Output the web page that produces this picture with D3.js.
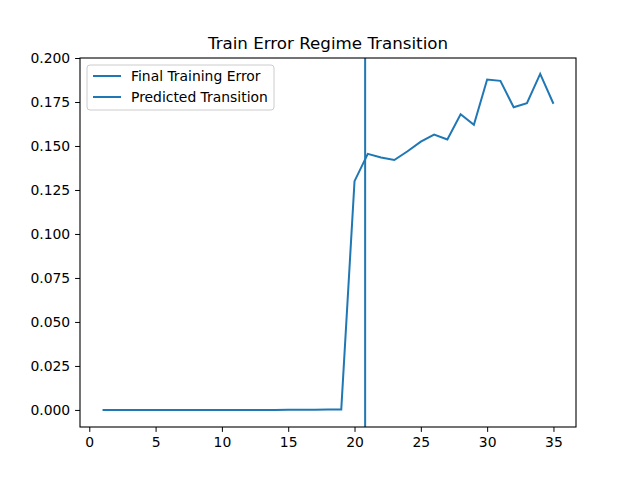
<!DOCTYPE html>
<html><head><meta charset="utf-8">
<script src="https://cdn.jsdelivr.net/npm/d3@7"></script>
<style>body{margin:0;background:#fff}text{font-family:"DejaVu Sans",sans-serif}</style>
</head><body>
<svg width="640" height="480"></svg>
<script>
// training sizes and final error
const xs = [1,2,3,4,5,6,7,8,9,10,11,12,13,14,15,16,17,18,19,20,21,22,23,24,25,26,27,28,29,30,31,32,33,34,35]
const errors = [0,0,0,0,0,0,0,0,0,0,0,0,0,0.00002,0.00005,0.00008,0.0001,0.0002,0.0003,0.130,0.1455,0.1435,0.142,0.147,0.1525,0.1565,0.1537,0.168,0.162,0.1878,0.187,0.172,0.1743,0.191,0.174]
const transition = 20.8
const xTicks = [0,5,10,15,20,25,30,35]
const yTicks = [0,0.025,0.05,0.075,0.1,0.125,0.15,0.175,0.2]

const svg = d3.select('svg')
const L = 80, R = 576, T = 58, B = 427
const x = d3.scaleLinear().domain([-0.7, 36.7]).range([L, R])
const y = d3.scaleLinear().domain([-0.0097, 0.2]).range([B, T])
const blue = '#1f77b4'

svg.append('g').attr('transform', `translate(0,${B})`)
	.call(d3.axisBottom(x).tickValues(xTicks).tickSize(4.9).tickPadding(4.9))
svg.append('g').attr('transform', `translate(${L},0)`)
	.call(d3.axisLeft(y).tickValues(yTicks).tickFormat(d3.format('.3f')).tickSize(4.9).tickPadding(4.9))
svg.selectAll('.tick text').attr('font-size', 13.9).attr('fill', '#000')
svg.selectAll('.domain').remove()

svg.append('path')
	.datum(xs.map((d, i) => [d, errors[i]]))
	.attr('fill', 'none').attr('stroke', blue).attr('stroke-width', 2)
	.attr('d', d3.line().x(d => x(d[0])).y(d => y(d[1])))

svg.append('line').attr('x1', x(transition)).attr('x2', x(transition))
	.attr('y1', T).attr('y2', B).attr('stroke', blue).attr('stroke-width', 2)

svg.append('rect').attr('x', L).attr('y', T).attr('width', R - L).attr('height', B - T)
	.attr('fill', 'none').attr('stroke', '#000').attr('stroke-width', 1.1)

svg.append('text').attr('x', (L + R) / 2).attr('y', 49).attr('text-anchor', 'middle')
	.attr('font-size', 16.7).text('Train Error Regime Transition')

// legend
const lg = svg.append('g')
lg.append('rect').attr('x', 87).attr('y', 65).attr('width', 187).attr('height', 45).attr('rx', 3)
	.attr('fill', '#fff').attr('fill-opacity', 0.8).attr('stroke', '#ccc')
const labels = ['Final Training Error', 'Predicted Transition']
labels.forEach((t, i) => {
	const yy = 76 + i * 21
	lg.append('line').attr('x1', 93).attr('x2', 121).attr('y1', yy).attr('y2', yy)
		.attr('stroke', blue).attr('stroke-width', 2)
	lg.append('text').attr('x', 131).attr('y', yy + 5).attr('font-size', 13.9).text(t)
})
</script>
</body></html>
